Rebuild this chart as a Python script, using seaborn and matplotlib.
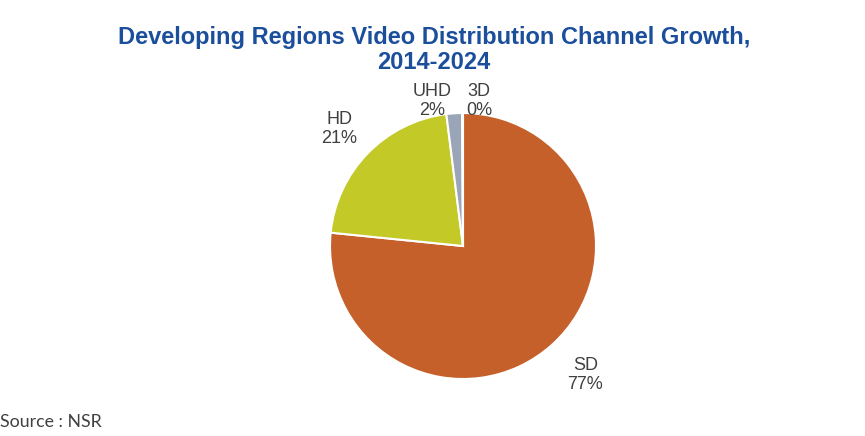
import matplotlib
matplotlib.use('Agg')
import matplotlib.pyplot as plt
import seaborn as sns

# datos
categorias = ['SD', 'HD', 'UHD', '3D']
valores = [76.6, 21.4, 1.9, 0.1]
etiquetas_pct = ['77%', '21%', '2%', '0%']
colores = ['#C5602A', '#C3C927', '#9AA6B7', '#7F7F7F']

sns.set_theme(style='white')
plt.rcParams['font.family'] = ['Liberation Sans', 'DejaVu Sans']

fig = plt.figure(figsize=(8.65, 4.36), dpi=100)
ax = fig.add_axes([0.3815, 0.1307, 266 / 865, 266 / 436])

etiquetas = [c + '\n' + p for c, p in zip(categorias, etiquetas_pct)]
wedges, textos = ax.pie(valores, labels=etiquetas, colors=colores, startangle=90,
                        counterclock=False, labeldistance=1.3,
                        wedgeprops={'edgecolor': 'white', 'linewidth': 1.5},
                        textprops={'fontsize': 13, 'color': '#404040',
                                   'ha': 'center', 'va': 'center', 'linespacing': 1.1})
for t in textos:
    t.set_horizontalalignment('center')
# etiquetas corridas a mano como en el original
textos[0].set_position((0.92, -0.97))
textos[1].set_position((-0.93, 0.88))
textos[2].set_position((-0.235, 1.09))
textos[3].set_position((0.12, 1.09))
ax.set_xlim(-1, 1)
ax.set_ylim(-1, 1)

fig.text(0.502, 0.886, 'Developing Regions Video Distribution Channel Growth,\n2014-2024',
         ha='center', va='center', fontsize=17, fontweight='bold', color='#1B4F9C',
         linespacing=1.12)
fig.text(0.0, 0.033, 'Source : NSR', ha='left', va='center', fontsize=12.8,
         color='#404040', family=['Lato', 'DejaVu Sans'])

fig.savefig('out.png', dpi=100)
